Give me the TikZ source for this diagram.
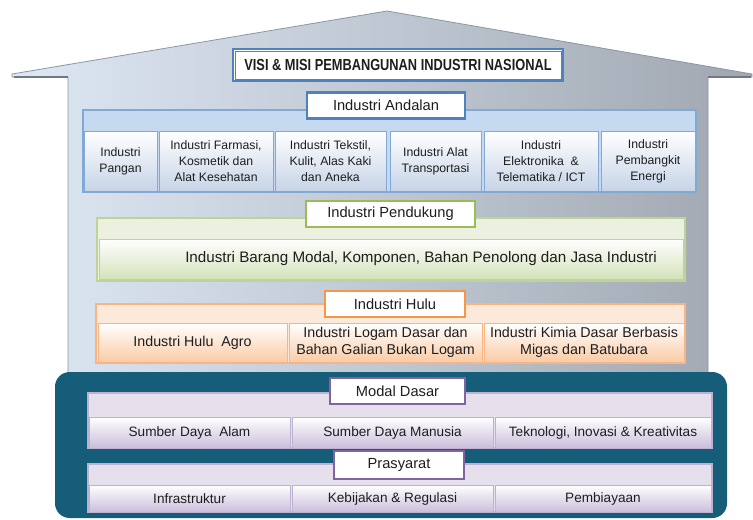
\documentclass[tikz,border=0pt]{standalone}
\usepackage{fontspec}
\setmainfont{Liberation Sans}
\newfontfamily\narrowfont[FakeStretch=0.8]{Liberation Sans}
\usetikzlibrary{shadows,positioning}

\definecolor{houseL}{RGB}{222,232,244}
\definecolor{houseR}{RGB}{160,167,177}
\definecolor{houseE}{RGB}{140,150,162}
\definecolor{ink}{RGB}{30,30,30}
\definecolor{teal}{RGB}{22,93,122}
% frames of the tags
\definecolor{tagB}{RGB}{79,129,189}
\definecolor{tagG}{RGB}{155,187,89}
\definecolor{tagO}{RGB}{247,150,70}
\definecolor{tagP}{RGB}{128,100,162}
% panels and cells
\definecolor{andF}{RGB}{197,217,241}
\definecolor{andD}{RGB}{130,168,214}
\definecolor{andC}{RGB}{198,212,231}
\definecolor{pdkF}{RGB}{235,241,222}
\definecolor{pdkD}{RGB}{190,212,150}
\definecolor{pdkC}{RGB}{212,226,186}
\definecolor{hulF}{RGB}{253,233,217}
\definecolor{hulD}{RGB}{248,180,130}
\definecolor{hulC}{RGB}{250,203,165}
\definecolor{modF}{RGB}{229,224,236}
\definecolor{modD}{RGB}{190,178,210}
\definecolor{modC}{RGB}{202,190,219}

\begin{document}
\begin{tikzpicture}[x=0.75pt,y=-0.75pt,text=ink,
	wh/.style 2 args={minimum width=#1*0.75pt,minimum height=#2*0.75pt},
	shd/.style={drop shadow={shadow xshift=0.7pt,shadow yshift=-0.7pt,opacity=0.35}},
	tag/.style={fill=white,draw=#1,line width=1.8pt,inner sep=0pt,shd,font=\fontsize{11}{13}\selectfont},
	panel/.style 2 args={fill=#1,draw=#2,line width=0.8pt},
	cell/.style 2 args={draw=#1,line width=0.5pt,top color=white,bottom color=#2,inner sep=0pt,align=center,shd},
	acell/.style={cell={andD}{andC},font=\fontsize{9.2}{12}\selectfont},
	hcell/.style={cell={hulD}{hulC},font=\fontsize{10.7}{12.5}\selectfont},
	mcell/.style={cell={modD}{modC},font=\fontsize{10.2}{12}\selectfont}]
	\useasboundingbox (0,0) rectangle (753,519);

	% house body and roof
	\path[left color=houseL,right color=houseR,draw=houseE,line width=0.6pt]
	(12,74) -- (387,11) -- (752,74) -- (752,77) -- (708,77) -- (708,380)
	-- (68,380) -- (68,77) -- (12,77) -- cycle;
	\draw[houseE!80!black,line width=1.4pt] (14,77) -- (68,77);
	\draw[houseE!80!black,line width=1.4pt] (708,77) -- (751,77);

	% title
	\node[fill=white,draw=tagB,line width=2.2pt,wh={330}{32},inner sep=0pt,shd,
		font=\narrowfont\bfseries\fontsize{12}{14}\selectfont] (vm) at (398,65)
		{VISI \& MISI PEMBANGUNAN INDUSTRI NASIONAL};
	\draw[tagB,line width=0.5pt] ([shift={(2.6pt,-2.6pt)}]vm.north west)
		rectangle ([shift={(-2.6pt,2.6pt)}]vm.south east);

	% andalan
	\draw[panel={andF}{andD}] (83,110) rectangle (696,192);
	\node[tag=tagB,wh={158}{26}] (ta) at (386,105.5) {Industri Andalan};
	\node[acell,wh={73}{60}] (a1) at (120.5,161) {Industri\\Pangan};
	\node[acell,wh={114}{60}] (a2) at (216,161) {Industri Farmasi,\\Kosmetik dan\\Alat Kesehatan};
	\node[acell,wh={111}{60}] (a3) at (330.5,161) {Industri Tekstil,\\Kulit, Alas Kaki\\dan Aneka};
	\node[acell,wh={91}{60}] (a4) at (435.5,161) {Industri Alat\\Transportasi};
	\node[acell,wh={114}{60}] (a5) at (541,161) {Industri\\Elektronika \ \&\\Telematika / ICT};
	\node[acell,wh={94}{60}] (a6) at (648,161) {Industri\\Pembangkit\\Energi};

	% pendukung
	\draw[panel={pdkF}{pdkD}] (97,218) rectangle (685,281);
	\node[tag=tagG,wh={169}{26}] (tp) at (390.5,214) {Industri Pendukung};
	\node[cell={pdkD}{pdkC},wh={584}{40}] (p0) at (391,259) {};
	\node[anchor=west,inner sep=0pt,font=\fontsize{11.4}{13}\selectfont] (p0t) at (185,259)
		{Industri Barang Modal, Komponen, Bahan Penolong dan Jasa Industri};

	% hulu
	\draw[panel={hulF}{hulD}] (96,304) rectangle (685,363);
	\node[tag=tagO,wh={140}{26}] (th) at (395,304) {Industri Hulu};
	\node[hcell,wh={189}{39}] (h1) at (192.5,342.5) {Industri Hulu \ Agro};
	\node[hcell,wh={193}{39}] (h2) at (385.5,342.5) {Industri Logam Dasar dan\\Bahan Galian Bukan Logam};
	\node[hcell,wh={200}{39}] (h3) at (584,342.5) {Industri Kimia Dasar Berbasis\\Migas dan Batubara};

	% foundation
	\fill[teal,rounded corners=11pt] (55,372) rectangle (727,518);

	\draw[panel={modF}{modD}] (88,393) rectangle (712,448);
	\node[tag=tagP,wh={135}{26}] (tm) at (397.5,391) {Modal Dasar};
	\node[mcell,wh={201}{31}] (m1) at (189.5,432.5) {Sumber Daya \ Alam};
	\node[mcell,wh={201}{31}] (m2) at (392.5,432.5) {Sumber Daya Manusia};
	\node[mcell,wh={216}{31}] (m3) at (603,432.5) {Teknologi, Inovasi \& Kreativitas};

	\draw[panel={modF}{modD}] (88,464) rectangle (712,512);
	\node[tag=tagP,wh={130}{28}] (ts) at (399,465) {Prasyarat};
	\node[mcell,wh={201}{27}] (s1) at (189.5,498.5) {Infrastruktur};
	\node[mcell,wh={201}{27}] (s2) at (392.5,498.5) {Kebijakan \& Regulasi};
	\node[mcell,wh={216}{27}] (s3) at (603,498.5) {Pembiayaan};
\end{tikzpicture}
\end{document}
